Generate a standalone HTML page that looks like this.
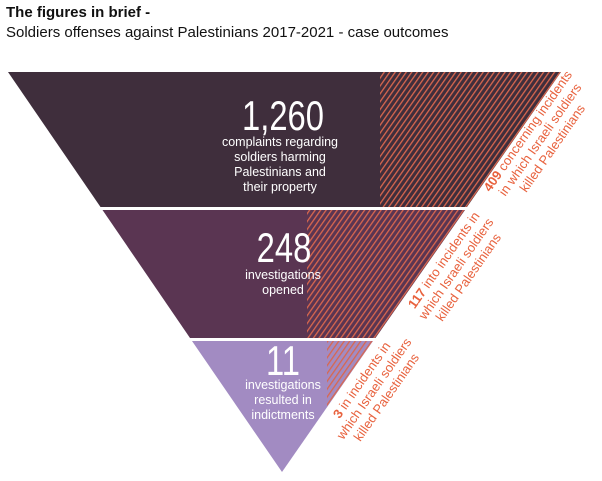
<!DOCTYPE html>
<html><head><style>
body{margin:0;width:602px;height:481px;background:#fff;overflow:hidden;font-family:"Liberation Sans",sans-serif}
.t1{position:absolute;left:6px;top:4px;font-size:15px;font-weight:bold;color:#111}
.t2{position:absolute;left:6px;top:24px;font-size:15px;color:#111}
</style></head><body>
<div class="t1">The figures in brief -</div>
<div class="t2">Soldiers offenses against Palestinians 2017-2021 - case outcomes</div>
<svg width="602" height="481" style="position:absolute;left:0;top:0">
<defs>
<pattern id="h" patternUnits="userSpaceOnUse" width="4.5" height="4.5" patternTransform="rotate(35)">
<rect x="0" y="0" width="1.3" height="4.5" fill="#d9674e"/>
</pattern>
<clipPath id="c1"><polygon points="8,72 561,72 467,207 100.5,207"/></clipPath>
<clipPath id="c2"><polygon points="102.5,210 465,210 375.5,338 190,338"/></clipPath>
<clipPath id="c3"><polygon points="192,341 373,341 282,472"/></clipPath>
</defs>
<polygon points="8,72 561,72 467,207 100.5,207" fill="#3f2e3c"/>
<rect x="380" y="72" width="200" height="135" fill="url(#h)" clip-path="url(#c1)"/>
<polygon points="102.5,210 465,210 375.5,338 190,338" fill="#5a3552"/>
<rect x="307" y="210" width="200" height="128" fill="url(#h)" clip-path="url(#c2)"/>
<polygon points="192,341 373,341 282,472" fill="#a28bc2"/>
<rect x="327" y="341" width="60" height="80" fill="url(#h)" clip-path="url(#c3)"/>
<g font-family="'Liberation Sans',sans-serif" fill="#fff" text-anchor="middle" font-size="42">
<text transform="translate(283,130) scale(0.78,1)">1,260</text>
<text transform="translate(284,262) scale(0.78,1)">248</text>
<text transform="translate(283,375) scale(0.78,1)">11</text>
</g>
<g fill="#fff" text-anchor="middle" font-size="12.5">
<text x="280" y="146">complaints regarding</text>
<text x="280" y="161">soldiers harming</text>
<text x="280" y="176">Palestinians and</text>
<text x="280" y="191">their property</text>
<text x="283" y="279">investigations</text>
<text x="283" y="294">opened</text>
<text x="283" y="389">investigations</text>
<text x="283" y="404">resulted in</text>
<text x="283" y="419">indictments</text>
</g>
<g fill="#e8623e" font-size="13" text-anchor="middle">
<g transform="translate(542,141) rotate(-55)">
<text x="0" y="-13"><tspan font-weight="bold">409</tspan> concerning incidents</text>
<text x="0" y="2">in which Israeli soldiers</text>
<text x="0" y="17">killed Palestinians</text>
</g>
<g transform="translate(458,270) rotate(-55)">
<text x="0" y="-13"><tspan font-weight="bold">117</tspan> into incidents in</text>
<text x="0" y="2">which Israeli soldiers</text>
<text x="0" y="17">killed Palestinians</text>
</g>
<g transform="translate(376,390) rotate(-55)">
<text x="0" y="-13"><tspan font-weight="bold">3</tspan> in incidents in</text>
<text x="0" y="2">which Israeli soldiers</text>
<text x="0" y="17">killed Palestinians</text>
</g>
</g>
</svg>
</body></html>
